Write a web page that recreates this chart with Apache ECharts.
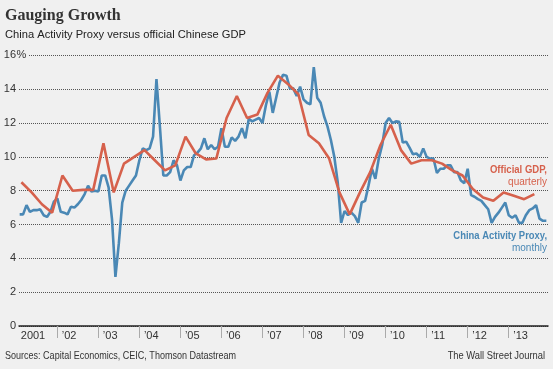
<!DOCTYPE html>
<html><head><meta charset="utf-8">
<script src="https://cdn.jsdelivr.net/npm/echarts/dist/echarts.min.js"></script>
<style>html,body{margin:0;padding:0;background:#f0f0f0}#c{width:553px;height:369px}</style>
</head><body><div id="c"></div>
<script>
// ---- data ----
const startYear = 2001;
// China Activity Proxy, monthly (Jan 2001 ...)
const proxyMonthly = [
  6.6, 6.6, 7.15, 6.75, 6.85, 6.85, 6.9, 6.55, 6.45, 6.75, 7.35, 7.55,
  6.75, 6.7, 6.6, 7.05, 7.0, 7.2, 7.45, 7.8, 8.3, 7.95, 8.0, 7.95,
  8.9, 8.9, 8.2, 6.3, 2.9, 4.9, 7.3, 8.0, 8.3, 8.6, 8.9, 9.8,
  10.5, 10.4, 10.5, 11.2, 14.6, 11.8, 8.9, 8.9, 9.1, 9.8, 9.5, 8.6,
  9.2, 9.4, 9.4, 10.1, 10.25, 10.5, 11.1, 10.45, 10.7, 10.45, 10.6, 11.7,
  10.6, 10.6, 11.15, 10.95, 11.2, 11.7, 11.1, 12.25, 12.1, 12.2, 12.3, 12.0,
  13.05, 13.85, 12.6, 13.5, 14.4, 14.85, 14.8, 14.05, 14.05, 13.6, 14.15, 13.4,
  13.2, 13.1, 15.3, 13.5, 13.2, 12.4, 11.8, 11.0, 10.0, 8.5, 6.1, 6.8,
  6.56, 6.7, 6.5, 6.1, 7.3, 7.4, 8.3, 9.3, 8.7, 9.9, 10.7, 12.0,
  12.3, 12.0, 12.1, 12.07, 10.85, 10.9, 10.55, 10.15, 10.2, 10.0, 10.5, 10.0,
  9.9, 9.9, 9.05, 9.3, 9.3, 9.5, 9.5, 9.1, 9.1, 8.6, 8.45, 9.3,
  7.74, 7.64, 7.5, 7.4, 7.15, 6.9, 6.1, 6.45, 6.7, 7.0, 7.3, 6.55,
  6.4, 6.55, 6.1, 6.1, 6.55, 6.85, 6.95, 7.15, 6.35, 6.22, 6.22
];
// Official GDP, quarterly (Q1 2001 ...)
const gdpQuarterly = [
  8.5, 7.9, 7.2, 6.7,
  8.9, 8.0, 8.05, 8.05,
  10.8, 7.9, 9.6, 10.0,
  10.4, 9.8, 9.2, 9.5,
  11.2, 10.2, 9.85, 9.9,
  12.3, 13.6, 12.3, 12.5,
  13.8, 14.8, 14.3, 13.7,
  11.3, 10.8, 9.9, 7.9,
  6.6, 7.9, 9.1, 10.7,
  11.9, 10.4, 9.6, 9.8,
  9.8, 9.6, 9.2, 8.9,
  8.1, 7.6, 7.4, 7.9,
  7.7, 7.5, 7.8
];
const yTicks = [0, 2, 4, 6, 8, 10, 12, 14, 16];
const tickYears = [2002, 2003, 2004, 2005, 2006, 2007, 2008, 2009, 2010, 2011, 2012, 2013];
const labelYears = [2001, 2002, 2003, 2004, 2005, 2006, 2007, 2008, 2009, 2010, 2011, 2012, 2013];

// ---- chart ----
const RED = '#d6614c', BLUE = '#4a88b5';
const proxyData = proxyMonthly.map((v, i) => [startYear + (i + 1) / 12, v]);
const gdpData = gdpQuarterly.map((v, i) => [startYear + (3 * i + 1.5) / 12, v]);
const LOFF = 0.11;

const chart = echarts.init(document.getElementById('c'), null, {renderer: 'canvas'});
chart.setOption({
  animation: false,
  backgroundColor: '#f0f0f0',
  grid: {left: 19, right: 5, top: 55.4, bottom: 43, containLabel: false},
  xAxis: {
    type: 'value', min: 2001.067, max: 2013.957,
    axisLine: {show: true, lineStyle: {color: '#222', width: 1.5}},
    axisTick: {show: true, customValues: tickYears, length: 12, lineStyle: {color: '#aaa', width: 1}},
    axisLabel: {
      show: true, customValues: labelYears.map(y => y + LOFF), align: 'left', margin: 4,
      color: '#333', fontSize: 11, fontFamily: 'Liberation Sans',
      formatter: v => { const y = Math.round(v - LOFF); return y === 2001 ? '2001' : '\u2019' + String(y).slice(2); }
    },
    splitLine: {show: false}
  },
  yAxis: {
    type: 'value', min: yTicks[0], max: yTicks[yTicks.length - 1], interval: 2,
    axisLine: {show: false}, axisTick: {show: false},
    axisLabel: {margin: 3, color: '#333', fontSize: 11, fontFamily: 'Liberation Sans'},
    splitLine: {show: true, lineStyle: {type: 'dotted', color: '#555', width: 1}}
  },
  series: [
    {type: 'line', data: proxyData, showSymbol: false, lineStyle: {color: BLUE, width: 2.6}, z: 2},
    {type: 'line', data: gdpData, showSymbol: false, lineStyle: {color: RED, width: 2.6}, z: 3}
  ],
  graphic: [
    {type: 'text', x: 5, y: 15.5, style: {text: 'Gauging Growth', font: 'bold 16px "Liberation Serif"', fill: '#333', textVerticalAlign: 'middle'}},
    {type: 'text', x: 5, y: 34.5, scaleX: 0.97, style: {text: 'China Activity Proxy versus official Chinese GDP', font: '11.5px "Liberation Sans"', fill: '#222', textVerticalAlign: 'middle'}},
    {type: 'text', x: 16.5, y: 55.4, z: 10, style: {text: '%', font: '11px "Liberation Sans"', fill: '#333', textVerticalAlign: 'middle', backgroundColor: '#f0f0f0', padding: [0, 2, 0, 0]}},
    {type: 'text', x: 547, y: 170, scaleX: 0.83, style: {text: 'Official GDP,', font: 'bold 11.5px "Liberation Sans"', fill: RED, textAlign: 'right', textVerticalAlign: 'middle'}},
    {type: 'text', x: 547, y: 182, scaleX: 0.87, style: {text: 'quarterly', font: '11.5px "Liberation Sans"', fill: RED, textAlign: 'right', textVerticalAlign: 'middle'}},
    {type: 'text', x: 547, y: 236, scaleX: 0.82, style: {text: 'China Activity Proxy,', font: 'bold 11.5px "Liberation Sans"', fill: BLUE, textAlign: 'right', textVerticalAlign: 'middle'}},
    {type: 'text', x: 547, y: 247.5, scaleX: 0.87, style: {text: 'monthly', font: '11.5px "Liberation Sans"', fill: BLUE, textAlign: 'right', textVerticalAlign: 'middle'}},
    {type: 'text', x: 5, y: 356, scaleX: 0.82, style: {text: 'Sources: Capital Economics, CEIC, Thomson Datastream', font: '11px "Liberation Sans"', fill: '#333', textVerticalAlign: 'middle'}},
    {type: 'text', x: 545, y: 356, scaleX: 0.85, style: {text: 'The Wall Street Journal', font: '11px "Liberation Sans"', fill: '#333', textAlign: 'right', textVerticalAlign: 'middle'}}
  ]
});
</script>
</body></html>
